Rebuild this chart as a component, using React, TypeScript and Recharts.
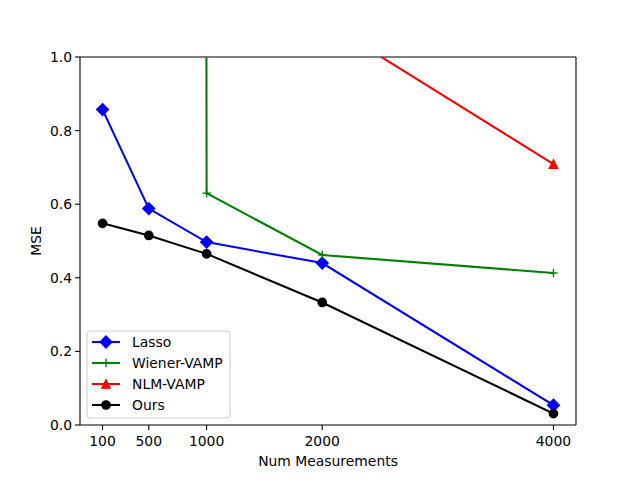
import React from 'react';
import { LineChart, Line, XAxis, YAxis, ReferenceLine } from 'recharts';

const measurements = [100, 500, 1000, 2000, 4000];
const lasso = [0.857, 0.588, 0.497, 0.44, 0.054];
const wienerVamp = [250, 120, 0.63, 0.462, 0.413];
const nlmVamp = [300, 150, 20, 1.1, 0.709];
const ours = [0.548, 0.515, 0.465, 0.333, 0.031];
const xTicks = [100, 500, 1000, 2000, 4000];
const yTicks = [0, 0.2, 0.4, 0.6, 0.8, 1.0];

const data = measurements.map((m, i) => ({
  m,
  lasso: lasso[i],
  wiener: wienerVamp[i],
  nlm: nlmVamp[i],
  ours: ours[i],
}));

const FONT = 'DejaVu Sans, sans-serif';
const FS = 13.9;

type MarkerKind = 'diamond' | 'plus' | 'triangle' | 'circle';

function Marker({ kind, cx, cy, color }: { kind: MarkerKind; cx: number; cy: number; color: string }) {
  if (cx == null || cy == null || isNaN(cx) || isNaN(cy)) return null;
  if (kind === 'diamond') {
    const r = 5.9;
    return (
      <polygon
        points={`${cx},${cy - r} ${cx + r},${cy} ${cx},${cy + r} ${cx - r},${cy}`}
        fill={color}
        stroke={color}
        strokeWidth={1.4}
      />
    );
  }
  if (kind === 'plus') {
    const r = 4.17;
    return (
      <g stroke={color} strokeWidth={1.4}>
        <line x1={cx - r} y1={cy} x2={cx + r} y2={cy} />
        <line x1={cx} y1={cy - r} x2={cx} y2={cy + r} />
      </g>
    );
  }
  if (kind === 'triangle') {
    const r = 4.17;
    return (
      <polygon
        points={`${cx},${cy - r} ${cx + r},${cy + r} ${cx - r},${cy + r}`}
        fill={color}
        stroke={color}
        strokeWidth={1.4}
      />
    );
  }
  return <circle cx={cx} cy={cy} r={4.17} fill={color} stroke={color} strokeWidth={1.4} />;
}

const series: { key: string; name: string; color: string; marker: MarkerKind }[] = [
  { key: 'lasso', name: 'Lasso', color: '#0000ff', marker: 'diamond' },
  { key: 'wiener', name: 'Wiener-VAMP', color: '#008000', marker: 'plus' },
  { key: 'nlm', name: 'NLM-VAMP', color: '#ff0000', marker: 'triangle' },
  { key: 'ours', name: 'Ours', color: '#000000', marker: 'circle' },
];

function LegendBox() {
  const rows = [11, 32, 53, 74];
  return (
    <svg
      width={146}
      height={90}
      style={{ position: 'absolute', left: 86, top: 330 }}
    >
      <rect x={1} y={1} width={143} height={87} rx={3} ry={3} fill="#ffffff" fillOpacity={0.8} stroke="#cccccc" strokeWidth={1} />
      {series.map((s, i) => (
        <g key={s.key}>
          <line x1={6} y1={rows[i] + 1} x2={34} y2={rows[i] + 1} stroke={s.color} strokeWidth={2.08} />
          <Marker kind={s.marker} cx={20} cy={rows[i] + 1} color={s.color} />
          <text x={46} y={rows[i] + 1} dominantBaseline="central" fontFamily={FONT} fontSize={FS} fill="#000">
            {s.name}
          </text>
        </g>
      ))}
    </svg>
  );
}

export default function App() {
  return (
    <div style={{ position: 'absolute', left: 0, top: 0, width: 640, height: 478, background: '#fff' }}>
      <LineChart
        width={640}
        height={478}
        data={data}
        margin={{ top: 57, right: 64, bottom: 23, left: 30 }}
      >
        <XAxis
          dataKey="m"
          type="number"
          domain={[-95, 4195]}
          ticks={xTicks}
          allowDataOverflow
          height={30}
          tickSize={4.9}
          tickMargin={6}
          stroke="#000"
          tick={{ fill: '#000', fontFamily: FONT, fontSize: FS }}
          axisLine={{ stroke: '#000', strokeWidth: 1.1 }}
          tickLine={{ stroke: '#000', strokeWidth: 1.1 }}
          label={{
            value: 'Num Measurements',
            position: 'bottom',
            offset: 1,
            fill: '#000',
            fontFamily: FONT,
            fontSize: FS,
          }}
        />
        <YAxis
          type="number"
          domain={[0, 1]}
          ticks={yTicks}
          allowDataOverflow
          width={50}
          tickSize={4.9}
          tickMargin={3}
          stroke="#000"
          tickFormatter={(v: number) => v.toFixed(1)}
          tick={{ fill: '#000', fontFamily: FONT, fontSize: FS }}
          axisLine={{ stroke: '#000', strokeWidth: 1.1 }}
          tickLine={{ stroke: '#000', strokeWidth: 1.1 }}
          label={{
            content: (props: any) => {
              const vb = props.viewBox || { x: 30, y: 57, width: 50, height: 368 };
              const x = vb.x + 6;
              const y = vb.y + vb.height / 2;
              return (
                <text
                  x={x}
                  y={y}
                  transform={`rotate(-90, ${x}, ${y})`}
                  textAnchor="middle"
                  dominantBaseline="central"
                  fontFamily={FONT}
                  fontSize={FS}
                  fill="#000"
                >
                  MSE
                </text>
              );
            },
          }}
        />
        <ReferenceLine y={1} stroke="#000" strokeWidth={1.1} />
        <ReferenceLine x={4195} stroke="#000" strokeWidth={1.1} />
        {series.map((s) => (
          <Line
            key={s.key}
            dataKey={s.key}
            name={s.name}
            stroke={s.color}
            strokeWidth={2.08}
            type="linear"
            isAnimationActive={false}
            activeDot={false}
            dot={(p: any) => (
              <Marker key={`${s.key}-${p.index}`} kind={s.marker} cx={p.cx} cy={p.cy} color={s.color} />
            )}
          />
        ))}
      </LineChart>
      <LegendBox />
    </div>
  );
}
